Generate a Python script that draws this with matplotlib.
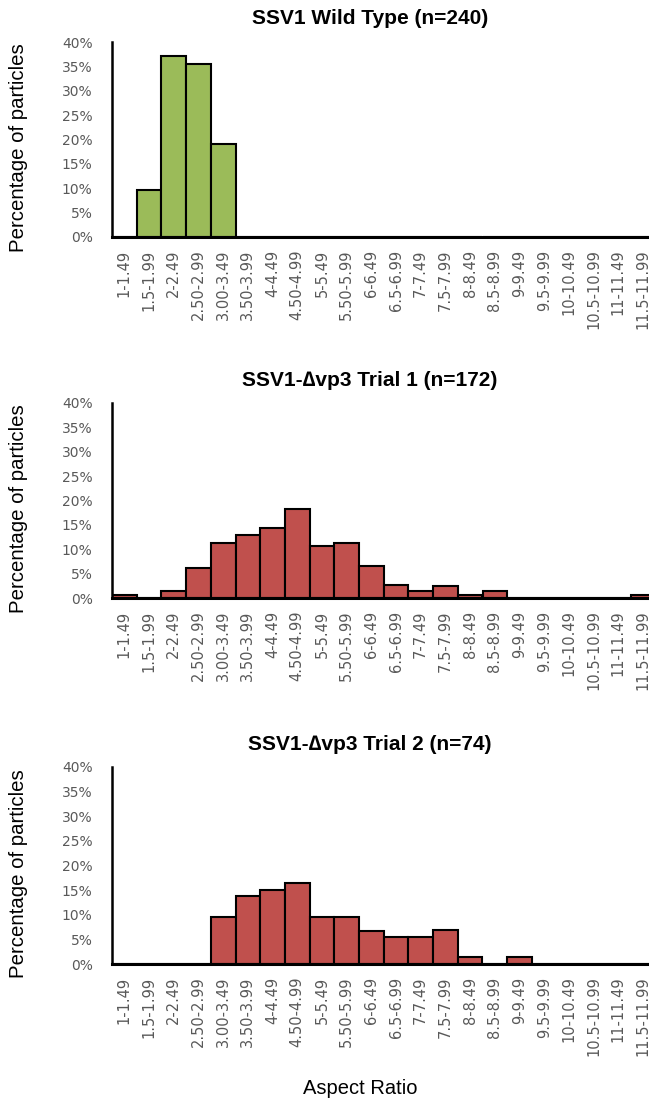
import numpy as np
import matplotlib
matplotlib.use("Agg")
import matplotlib.pyplot as plt

# categorias de razao de aspecto
categorias = ["1-1.49", "1.5-1.99", "2-2.49", "2.50-2.99", "3.00-3.49", "3.50-3.99",
              "4-4.49", "4.50-4.99", "5-5.49", "5.50-5.99", "6-6.49", "6.5-6.99",
              "7-7.49", "7.5-7.99", "8-8.49", "8.5-8.99", "9-9.49", "9.5-9.99",
              "10-10.49", "10.5-10.99", "11-11.49", "11.5-11.99"]

# porcentagem de particulas (%)
wild_type = [0, 9.6, 37.2, 35.5, 19.0, 0, 0, 0, 0, 0, 0,
             0, 0, 0, 0, 0, 0, 0, 0, 0, 0, 0]
trial1 = [0.6, 0, 1.5, 6.2, 11.3, 12.9, 14.3, 18.3, 10.6, 11.2, 6.5,
          2.7, 1.4, 2.4, 0.6, 1.4, 0, 0, 0, 0, 0, 0.6]
trial2 = [0, 0, 0, 0, 9.6, 13.8, 15.1, 16.5, 9.6, 9.6, 6.8,
          5.4, 5.4, 6.9, 1.4, 0, 1.4, 0, 0, 0, 0, 0]

yticks = [0, 5, 10, 15, 20, 25, 30, 35, 40]

titulos = ["SSV1 Wild Type (n=240)", "SSV1-\u2206vp3 Trial 1 (n=172)",
           "SSV1-\u2206vp3 Trial 2 (n=74)"]
series = [wild_type, trial1, trial2]
cores = ["#9BBB59", "#C0504D", "#C0504D"]

W, H = 649, 1101
fig = plt.figure(figsize=(W / 100, H / 100), dpi=100)

# (topo, base) de cada eixo em pixels
paineis = [(42, 237), (403, 598), (767, 964)]
esq = 112
larg_bin = 24.7

fam = ["Liberation Sans", "DejaVu Sans"]
cinza = "#595959"

x = np.arange(len(categorias))
for (topo, base), dados, cor, tit in zip(paineis, series, cores, titulos):
    ax = fig.add_axes([esq / W, 1 - base / H, (W - esq) / W, (base - topo) / H])
    ax.bar(x, dados, width=1.0, color=cor, edgecolor="black", linewidth=1.5, zorder=2)
    ax.set_xlim(-0.5, -0.5 + (W - esq) / larg_bin)
    ax.set_ylim(0, 40)
    ax.set_yticks(yticks)
    ax.set_yticklabels([f"{v}%" for v in yticks], fontsize=10, color=cinza)
    ax.set_xticks(x)
    ax.set_xticklabels(categorias, rotation=90, fontsize=10.5, color=cinza)
    ax.tick_params(axis="y", length=0, pad=14)
    ax.tick_params(axis="x", length=0, pad=9)
    for s in ["top", "right"]:
        ax.spines[s].set_visible(False)
    ax.spines["left"].set_linewidth(1.8)
    ax.spines["bottom"].set_linewidth(2.2)
    ax.spines["bottom"].set_zorder(3)
    fig.text(370 / W, 1 - (topo - 23) / H, tit, ha="center", va="center",
             fontsize=15, fontweight="bold", family=fam)
    fig.text(19 / W, 1 - ((topo + base) / 2 + 8) / H, "Percentage of particles",
             rotation=90, ha="center", va="center", fontsize=14.7, family=fam)

fig.text(360 / W, 1 - 1088 / H, "Aspect Ratio", ha="center", va="center",
         fontsize=14.5, family=fam)

fig.savefig("out.png", dpi=100)
